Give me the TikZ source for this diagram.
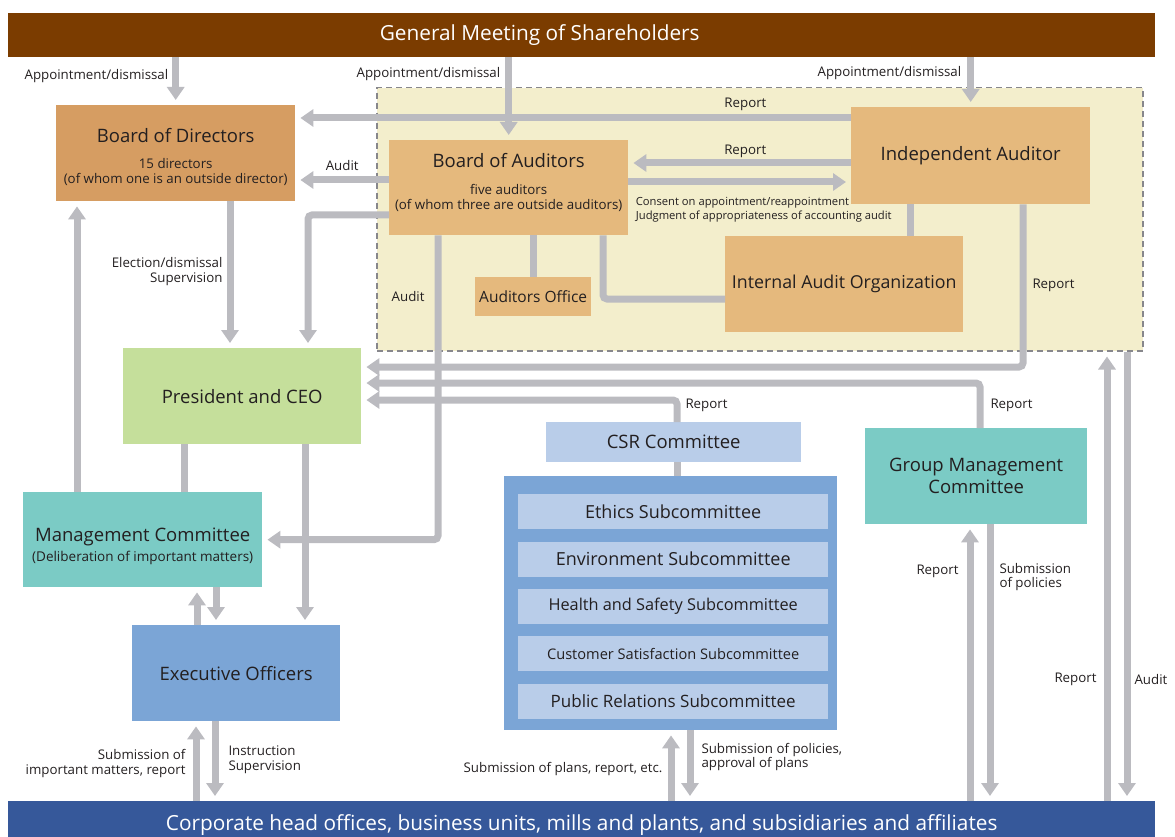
\documentclass[tikz,border=0pt]{standalone}
\usepackage{fontspec}
\setmainfont{Open Sans}
\usetikzlibrary{arrows.meta,positioning}

\definecolor{shareholderbrown}{RGB}{123,60,0}
\definecolor{groupblue}{RGB}{54,88,154}
\definecolor{directororange}{RGB}{214,157,98}
\definecolor{auditortan}{RGB}{229,185,125}
\definecolor{zonefill}{RGB}{243,238,204}
\definecolor{zoneedge}{RGB}{135,135,140}
\definecolor{ceogreen}{RGB}{197,223,155}
\definecolor{committeeteal}{RGB}{123,203,197}
\definecolor{officerblue}{RGB}{123,165,214}
\definecolor{csrblue}{RGB}{185,205,233}
\definecolor{linkgray}{RGB}{187,187,192}
\definecolor{inkdark}{RGB}{35,31,32}

\newcommand{\titlefont}{\fontsize{18.5}{22}\selectfont}
\newcommand{\subfont}{\fontsize{13.3}{15}\selectfont}
\newcommand{\labelfont}{\fontsize{13.3}{14.5}\selectfont}

\begin{document}
\begin{tikzpicture}[
    x=1pt, y=-1pt,
    box/.style={anchor=north west, inner sep=0pt, align=center, text=inkdark, font=\titlefont},
    banner/.style={anchor=north west, inner sep=0pt, text=white, font=\fontsize{20.8}{24}\selectfont},
    subbox/.style={fill=csrblue, minimum width=310pt, minimum height=35pt, inner sep=0pt, text=inkdark},
    link/.style={line width=7pt, draw=linkgray, rounded corners=4pt},
    arrow/.style={link, -{Triangle[width=17pt,length=13pt]}, shorten >=5pt},
    linklabel/.style={font=\labelfont, text=inkdark, inner sep=0pt, align=center},
    note/.style={font=\fontsize{11.2}{13.5}\selectfont, text=inkdark, inner sep=0pt, align=left}
]
\clip (0,0) rectangle (1175,837);

% === Banners ===
\node[banner, fill=shareholderbrown, minimum width=1147pt, minimum height=44pt] (gms) at (8,13) {General Meeting of Shareholders\hspace{84pt}\mbox{}};
\node[banner, fill=groupblue, minimum width=1147pt, minimum height=48pt] (corp) at (8,801) {Corporate head offices, business units, mills and plants, and subsidiaries and affiliates};

% === Audit zone ===
\node[anchor=north west, draw=zoneedge, fill=zonefill, line width=1.5pt, dash pattern=on 6pt off 4pt, minimum width=766pt, minimum height=263pt, inner sep=0pt] (zone) at (376,87) {};

% === Boxes ===
\node[box, fill=directororange, minimum width=239pt, minimum height=96pt, font=\subfont] (bod) at (56,105) {\mbox{}\\[6pt]\titlefont Board of Directors\\[11pt]15 directors\\(of whom one is an outside director)};
\node[box, fill=auditortan, minimum width=239pt, minimum height=95pt, font=\subfont] (boa) at (389,140) {\titlefont Board of Auditors\\[12pt]five auditors\\(of whom three are outside auditors)\\[-3pt]\mbox{}};
\node[box, fill=auditortan, minimum width=239pt, minimum height=97pt] (ia) at (851,107) {Independent Auditor};
\node[box, fill=auditortan, minimum width=116pt, minimum height=39pt, font=\fontsize{15.5}{18}\selectfont] (ao) at (475,277) {Auditors Office};
\node[box, fill=auditortan, minimum width=238pt, minimum height=96pt, font=\fontsize{17.8}{22}\selectfont] (iao) at (725,236) {Internal Audit Organization};

\node[box, fill=ceogreen, minimum width=238pt, minimum height=96pt] (pres) at (123,348) {President and CEO};
\node[box, fill=committeeteal, minimum width=239pt, minimum height=95pt] (mc) at (23,492) {\mbox{}\\[4pt]Management Committee\\[-2pt]\fontsize{13.5}{15}\selectfont (Deliberation of important matters)};
\node[box, fill=officerblue, minimum width=208pt, minimum height=96pt] (exec) at (132,625) {Executive Officers};
\node[box, fill=committeeteal, minimum width=222pt, minimum height=96pt] (gmc) at (865,428) {Group Management\\Committee};

% === CSR ===
\node[box, fill=csrblue, minimum width=255pt, minimum height=40pt] (csr) at (546,422) {CSR Committee};
\node[box, fill=officerblue, minimum width=333pt, minimum height=254pt] (subc) at (504,476) {};
\node[subbox, anchor=north west, font=\fontsize{18}{20}\selectfont] (ethics) at (518,494) {Ethics Subcommittee};
\node[subbox, below=12pt of ethics, font=\fontsize{18}{20}\selectfont] (environment) {Environment Subcommittee};
\node[subbox, below=12pt of environment, font=\fontsize{16.3}{20}\selectfont] (health) {Health and Safety Subcommittee};
\node[subbox, below=12pt of health, font=\fontsize{14.6}{20}\selectfont] (customer) {Customer Satisfaction Subcommittee};
\node[subbox, below=12pt of customer, font=\fontsize{17}{20}\selectfont] (public) {Public Relations Subcommittee};

% === Shareholders ===
\draw[arrow] (gms.south -| bod.north) -- (bod.north) node[linklabel, pos=0.4, left=4pt] {Appointment/dismissal};
\draw[arrow] (gms.south -| boa.north) -- (boa.north) node[linklabel, pos=0.2, left=5pt] {Appointment/dismissal};
\draw[arrow] (gms.south -| ia.north) -- (ia.north) node[linklabel, pos=0.32, left=6pt] {Appointment/dismissal};

% === Audit zone links ===
\draw[arrow] (ia.west |- 0,118) -- (bod.east |- 0,118) node[linklabel, pos=0.19, above=4pt] {Report};
\draw[arrow] (ia.west |- 0,163) -- (boa.east |- 0,163) node[linklabel, pos=0.475, above=2pt] {Report};
\draw[arrow] (boa.east |- 0,182) -- (ia.west |- 0,182) node[note, pos=0, anchor=north west, xshift=4pt, yshift=-12pt] {Consent on appointment/reappointment\\Judgment of appropriateness of accounting audit};
\draw[arrow] (boa.west |- 0,180) -- (bod.east |- 0,180) node[linklabel, midway, above=6pt] {Audit};
\draw[arrow] (boa.west |- 0,215) -| (pres.north -| 308,0);
\draw[arrow] (boa.south -| 438,0) |- (mc.east) node[linklabel, pos=0.1, left=10pt] {Audit};
\draw[link] (boa.south -| ao.north) -- (ao.north);
\draw[link] (boa.south -| 603,0) |- (iao.west |- 0,299);
\draw[link] (ia.south -| 910,0) -- (iao.north -| 910,0);

% === Reports to the president ===
\draw[arrow] (ia.south -| 1023,0) |- (pres.east |- 0,367) node[linklabel, pos=0.25, right=6pt] {Report};
\draw[arrow] (gmc.north -| 980,0) |- (pres.east |- 0,383) node[linklabel, pos=0.25, right=7pt] {Report};
\draw[arrow] (csr.north -| 677,0) |- (pres.east |- 0,400) node[linklabel, pos=0.38, right=5pt] {Report};

% === Executive side ===
\draw[arrow] (bod.south -| 230,0) -- (pres.north -| 230,0) node[linklabel, align=right, pos=0.48, left=4pt] {Election/dismissal\\Supervision};
\draw[link] (pres.south -| 184,0) -- (mc.north -| 184,0);
\draw[arrow] (pres.south -| 305,0) -- (exec.north -| 305,0);
\draw[arrow] (mc.north -| 77,0) -- (bod.south -| 77,0);
\draw[arrow] (exec.north -| 197,0) -- (mc.south -| 197,0);
\draw[arrow] (mc.south -| 216,0) -- (exec.north -| 216,0);
\draw[arrow] (corp.north -| 196,0) -- (exec.south -| 196,0) node[linklabel, align=right, pos=0.47, left=7pt] {Submission of\\important matters, report};
\draw[arrow] (exec.south -| 215,0) -- (corp.north -| 215,0) node[linklabel, align=left, pos=0.48, right=10pt] {Instruction\\Supervision};

% === CSR links ===
\draw[link] (csr.south -| 677,0) -- (subc.north -| 677,0);
\draw[arrow] (corp.north -| 671,0) -- (subc.south -| 671,0) node[linklabel, pos=0.45, left=5pt] {Submission of plans, report, etc.};
\draw[arrow] (subc.south -| 690,0) -- (corp.north -| 690,0) node[linklabel, align=left, pos=0.38, right=8pt] {Submission of policies,\\approval of plans};

% === Group management and audit zone ===
\draw[arrow] (corp.north -| 970,0) -- (gmc.south -| 970,0) node[linklabel, pos=0.83, left=8pt] {Report};
\draw[arrow] (gmc.south -| 990,0) -- (corp.north -| 990,0) node[linklabel, align=left, pos=0.19, right=6pt] {Submission\\of policies};
\draw[arrow] (corp.north -| 1107,0) -- (zone.south -| 1107,0) node[linklabel, pos=0.27, left=7pt] {Report};
\draw[arrow] (zone.south -| 1127,0) -- (corp.north -| 1127,0) node[linklabel, pos=0.73, right=4pt] {Audit};

\end{tikzpicture}
\end{document}
